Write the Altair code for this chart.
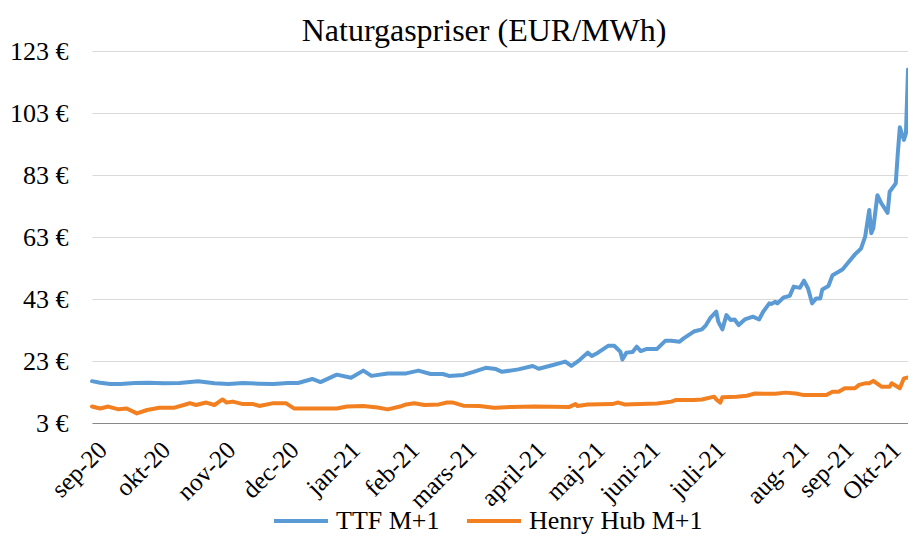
import altair as alt
import pandas as pd

# TTF M+1 (day index since 1 Sep 2020, EUR/MWh)
ttf = [(0,16.5),(4,16.0),(9,15.6),(14,15.6),(21,15.9),(28,16.0),(35,15.8),(43,15.9),(52,16.5),
       (60,15.8),(67,15.6),(74,15.9),(82,15.7),(89,15.6),(96,15.9),(101,15.9),(108,17.2),(112,16.2),
       (120,18.6),(127,17.6),(133,19.9),(137,18.2),(145,19.0),(154,19.0),(160,19.9),(166,18.8),
       (172,18.8),(175,18.2),(182,18.5),(187,19.5),(193,20.8),(198,20.4),(201,19.5),(209,20.3),
       (216,21.4),(219,20.5),(226,21.7),(232,22.8),(235,21.4),(239,23.3),(243,25.7),(245,24.6),
       (248,25.7),(253,27.9),(256,27.9),(259,26.0),(260,23.5),(262,25.7),(265,25.9),(267,27.6),
       (269,26.2),(272,26.9),(277,26.9),(281,29.5),(284,29.5),(288,29.2),(290,30.3),(295,32.5),
       (299,33.2),(301,34.6),(303,36.8),(306,38.9),(307,35.7),(309,33.2),(311,37.8),(313,36.2),
       (315,36.4),(317,34.6),(320,36.4),(324,37.3),(327,36.4),(329,38.9),(332,41.6),(333,41.4),
       (335,42.1),(336,41.6),(339,43.5),(342,44.0),(344,47.0),(347,46.6),(349,48.9),(351,46.4),
       (353,41.6),(355,43.2),(357,43.2),(358,46.1),(361,47.2),(363,50.7),(366,51.8),(368,52.6),
       (371,55.0),(374,57.4),(377,59.3),(379,63.1),(381,71.7),(382,64.2),(383,65.8),(385,76.5),
       (387,73.8),(390,70.8),(391,77.6),(394,80.3),(395,90.0),(396,98.4),(398,94.3),(399,96.5),
       (400,117.0)]

# Henry Hub M+1
hh = [(0,8.3),(4,7.7),(8,8.3),(13,7.4),(17,7.7),(22,6.1),(27,7.2),(33,7.9),(40,7.9),(45,8.8),
      (48,9.4),(51,8.8),(56,9.6),(60,8.8),(64,10.6),(66,9.6),(69,9.9),(74,9.1),(79,9.1),(82,8.5),
      (89,9.4),(95,9.4),(99,7.7),(106,7.7),(113,7.7),(120,7.7),(125,8.3),(133,8.5),(140,8.0),
      (145,7.4),(151,8.3),(154,9.0),(158,9.4),(163,8.8),(170,9.0),(174,9.6),(177,9.6),(182,8.6),
      (190,8.5),(197,7.9),(198,7.9),(206,8.2),(217,8.3),(234,8.2),(237,9.1),(238,8.5),(243,9.0),
      (255,9.1),(258,9.6),(261,9.0),(269,9.1),(277,9.3),(284,9.9),(286,10.4),(295,10.4),(299,10.6),
      (305,11.5),(306,10.6),(308,9.6),(309,11.3),(316,11.5),(321,11.8),(325,12.5),(331,12.4),
      (335,12.4),(340,12.8),(345,12.5),(349,12.0),(353,12.0),(360,12.0),(363,13.1),(366,13.1),
      (369,14.2),(374,14.2),(376,15.3),(379,15.8),(381,15.8),(383,16.6),(387,14.7),(391,14.7),
      (392,15.8),(396,14.2),(398,17.4),(400,17.7)]

series_names = ["TTF M+1", "Henry Hub M+1"]
series_colors = ["#5B9BD5", "#F28021"]

tick_days = [1, 32, 64, 95, 125, 154, 182, 216, 245, 272, 304, 345, 367, 390]
tick_labels = ["sep-20", "okt-20", "nov-20", "dec-20", "jan-21", "feb-21", "mars-21",
               "april-21", "maj-21", "juni-21", "juli-21", "aug- 21", "sep-21", "Okt-21"]
y_ticks = [3, 23, 43, 63, 83, 103, 123]
title_text = "Naturgaspriser (EUR/MWh)"

rows = []
for name, pts in zip(series_names, [ttf, hh]):
    for i, (d, v) in enumerate(pts):
        rows.append({"serie": name, "dag": d, "pris": v, "ordning": i})
df = pd.DataFrame(rows)

label_expr = "".join(f"datum.value == {d} ? '{l}' : " for d, l in zip(tick_days, tick_labels)) + "''"

FONT = "Liberation Serif"
W, H = 816, 372

lines = alt.Chart(df).mark_line(strokeWidth=4, strokeJoin="round", strokeCap="round").encode(
    x=alt.X("dag:Q", scale=alt.Scale(domain=[0, 400], nice=False, zero=False),
            axis=alt.Axis(values=tick_days, labelExpr=label_expr, title=None, grid=False,
                          ticks=False, labelAngle=-45, labelAlign="right", labelBaseline="top",
                          labelFontSize=25, labelFont=FONT, labelColor="#000000", labelPadding=14,
                          domainColor="#898989", domainWidth=1.2, labelOverlap=False)),
    y=alt.Y("pris:Q", scale=alt.Scale(domain=[3, 123], nice=False, zero=False),
            axis=alt.Axis(values=y_ticks, labelExpr="datum.value + ' €'", title=None,
                          domain=False, ticks=False, labelPadding=24, labelFontSize=26,
                          labelFont=FONT, labelColor="#000000", gridColor="#d9d9d9", gridWidth=1.2)),
    color=alt.Color("serie:N", scale=alt.Scale(domain=series_names, range=series_colors),
                    legend=alt.Legend(title=None, orient="none", legendX=180, legendY=441,
                                      direction="horizontal", symbolType="stroke", symbolSize=2916,
                                      symbolStrokeWidth=4, labelFontSize=26, labelFont=FONT,
                                      labelColor="#000000", columnPadding=19, labelOffset=6,
                                      labelLimit=0, padding=0)),
    order="ordning:Q",
)

title = alt.Chart(pd.DataFrame({"titel": [title_text]})).mark_text(
    font=FONT, fontSize=32, color="#000000", align="center", baseline="alphabetic"
).encode(x=alt.value(392), y=alt.value(-10), text="titel:N")

chart = alt.layer(lines, title).properties(
    width=W, height=H,
    autosize=alt.AutoSizeParams(type="none"),
    padding={"left": 84, "top": 43, "right": 0, "bottom": 113},
).configure_view(stroke=None)

chart.save("out.html", embed_options={"renderer": "svg", "actions": False})
